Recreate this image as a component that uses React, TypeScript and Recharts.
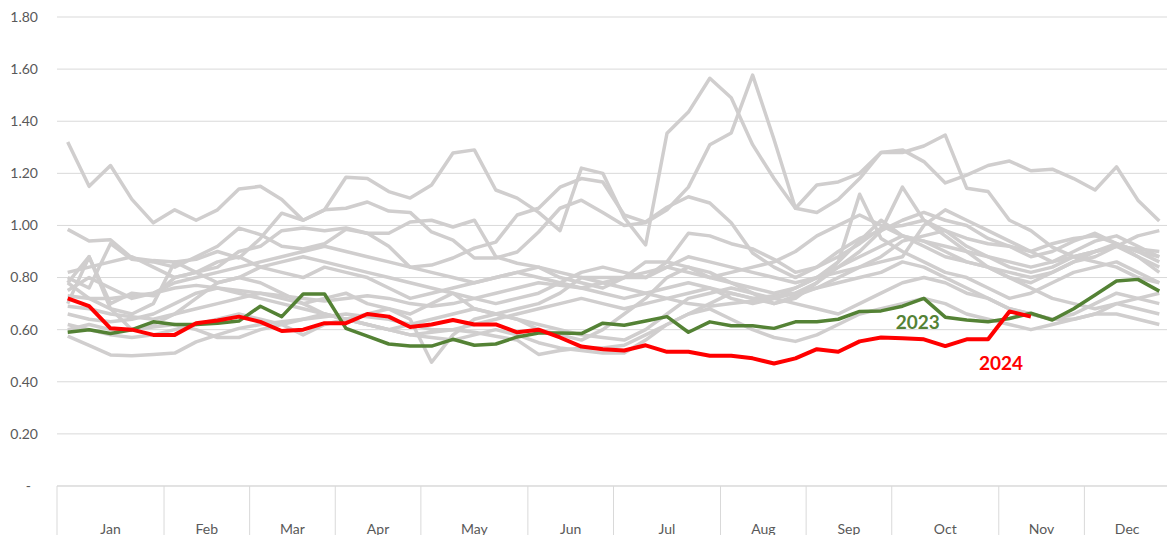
import { LineChart, Line, XAxis, YAxis, CartesianGrid, LabelList } from 'recharts';

// Semanas por mes (52 semanas)
const months = ['Jan', 'Feb', 'Mar', 'Apr', 'May', 'Jun', 'Jul', 'Aug', 'Sep', 'Oct', 'Nov', 'Dec'];
const weeksPerMonth = [5, 4, 4, 4, 5, 4, 5, 4, 4, 5, 4, 4];
const yTicks = [0, 0.2, 0.4, 0.6, 0.8, 1.0, 1.2, 1.4, 1.6, 1.8];

// Años históricos (gris)
const y2009 = [1.32, 1.15, 1.23, 1.10, 1.01, 1.06, 1.02, 1.06, 1.14, 1.15, 1.10, 1.02, 1.06, 1.185, 1.18, 1.13, 1.105, 1.155, 1.278, 1.29, 1.136, 1.105, 1.05, 0.98, 1.22, 1.20, 1.03, 0.925, 1.354, 1.435, 1.565, 1.49, 1.31, 1.18, 1.066, 1.05, 1.10, 1.18, 1.28, 1.28, 1.305, 1.347, 1.143, 1.13, 1.02, 0.98, 0.917, 0.88, 0.90, 0.93, 0.88, 0.82];
const y2010 = [0.985, 0.94, 0.945, 0.875, 0.865, 0.86, 0.87, 0.90, 0.875, 0.95, 1.047, 1.02, 1.06, 1.066, 1.09, 1.055, 1.05, 0.975, 0.944, 0.875, 0.875, 0.898, 0.975, 1.066, 1.097, 1.05, 1.0, 1.01, 1.06, 1.147, 1.31, 1.355, 1.577, 1.33, 1.066, 1.155, 1.167, 1.20, 1.28, 1.29, 1.245, 1.163, 1.193, 1.23, 1.247, 1.21, 1.216, 1.18, 1.136, 1.225, 1.097, 1.017];
const y2011 = [0.80, 0.76, 0.93, 0.87, 0.86, 0.84, 0.88, 0.92, 0.99, 0.965, 0.92, 0.91, 0.93, 0.985, 0.97, 0.92, 0.84, 0.848, 0.875, 0.913, 0.936, 1.04, 1.066, 1.147, 1.18, 1.167, 1.04, 1.013, 1.07, 1.11, 1.086, 1.01, 0.894, 0.84, 0.80, 0.84, 0.88, 0.93, 0.99, 1.0, 1.02, 0.98, 0.95, 0.93, 0.92, 0.90, 0.93, 0.95, 0.96, 0.93, 0.90, 0.88];
const y2012 = [0.78, 0.88, 0.70, 0.74, 0.73, 0.80, 0.82, 0.84, 0.90, 0.92, 0.98, 0.99, 0.98, 0.99, 0.97, 0.97, 1.013, 1.02, 0.994, 1.02, 0.88, 0.855, 0.84, 0.82, 0.80, 0.80, 0.80, 0.80, 0.86, 0.97, 0.96, 0.93, 0.91, 0.87, 0.82, 0.84, 0.90, 0.95, 0.98, 1.02, 1.05, 1.02, 1.0, 0.95, 0.92, 0.88, 0.90, 0.94, 0.97, 0.93, 0.90, 0.86];
const y2013 = [0.575, 0.54, 0.503, 0.50, 0.505, 0.51, 0.553, 0.58, 0.605, 0.62, 0.63, 0.64, 0.65, 0.66, 0.65, 0.64, 0.62, 0.60, 0.60, 0.59, 0.575, 0.56, 0.505, 0.52, 0.53, 0.53, 0.54, 0.58, 0.62, 0.66, 0.70, 0.74, 0.72, 0.70, 0.73, 0.76, 0.78, 0.80, 0.82, 0.86, 0.84, 0.80, 0.76, 0.72, 0.68, 0.66, 0.64, 0.64, 0.66, 0.66, 0.64, 0.62];
const y2014 = [0.62, 0.60, 0.58, 0.57, 0.58, 0.60, 0.62, 0.64, 0.66, 0.64, 0.62, 0.58, 0.62, 0.64, 0.62, 0.60, 0.58, 0.57, 0.56, 0.58, 0.60, 0.58, 0.55, 0.53, 0.52, 0.51, 0.51, 0.56, 0.62, 0.66, 0.68, 0.64, 0.60, 0.57, 0.555, 0.58, 0.62, 0.66, 0.68, 0.70, 0.72, 0.70, 0.66, 0.64, 0.62, 0.60, 0.62, 0.64, 0.66, 0.70, 0.68, 0.66];
const y2015 = [0.70, 0.88, 0.68, 0.60, 0.62, 0.66, 0.72, 0.78, 0.80, 0.78, 0.74, 0.70, 0.72, 0.74, 0.70, 0.68, 0.66, 0.70, 0.74, 0.68, 0.66, 0.64, 0.60, 0.58, 0.56, 0.60, 0.66, 0.72, 0.80, 0.84, 0.82, 0.78, 0.74, 0.70, 0.72, 0.78, 0.86, 0.94, 1.02, 0.96, 0.92, 0.88, 0.86, 0.84, 0.80, 0.78, 0.82, 0.86, 0.90, 0.92, 0.88, 0.84];
const y2016 = [0.78, 0.72, 0.68, 0.66, 0.70, 0.86, 0.82, 0.78, 0.80, 0.84, 0.82, 0.80, 0.84, 0.82, 0.80, 0.76, 0.72, 0.74, 0.76, 0.78, 0.80, 0.82, 0.84, 0.80, 0.78, 0.76, 0.80, 0.86, 0.86, 0.84, 0.80, 0.78, 0.76, 0.74, 0.76, 0.80, 0.86, 1.12, 0.95, 0.90, 0.86, 0.82, 0.80, 0.76, 0.72, 0.74, 0.78, 0.82, 0.84, 0.86, 0.82, 0.78];
const y2017 = [0.73, 0.72, 0.72, 0.73, 0.74, 0.76, 0.77, 0.76, 0.75, 0.74, 0.73, 0.72, 0.71, 0.72, 0.73, 0.72, 0.70, 0.69, 0.70, 0.72, 0.74, 0.76, 0.78, 0.77, 0.76, 0.74, 0.72, 0.74, 0.76, 0.78, 0.76, 0.74, 0.72, 0.73, 0.74, 0.76, 0.80, 0.84, 0.88, 0.94, 0.96, 0.98, 0.92, 0.88, 0.84, 0.82, 0.84, 0.88, 0.90, 0.92, 0.91, 0.90];
const y2018 = [0.66, 0.64, 0.63, 0.64, 0.66, 0.70, 0.74, 0.76, 0.74, 0.72, 0.70, 0.68, 0.66, 0.64, 0.62, 0.60, 0.58, 0.59, 0.60, 0.62, 0.64, 0.66, 0.68, 0.70, 0.72, 0.70, 0.68, 0.70, 0.72, 0.74, 0.76, 0.72, 0.70, 0.72, 0.76, 0.80, 0.82, 0.84, 0.86, 0.88, 1.0, 1.06, 1.02, 0.98, 0.94, 0.90, 0.86, 0.88, 0.86, 0.84, 0.80, 0.78];
const y2019 = [0.69, 0.68, 0.66, 0.65, 0.64, 0.66, 0.68, 0.70, 0.72, 0.74, 0.72, 0.70, 0.66, 0.64, 0.66, 0.68, 0.64, 0.475, 0.58, 0.64, 0.66, 0.68, 0.70, 0.74, 0.80, 0.78, 0.76, 0.74, 0.72, 0.70, 0.69, 0.70, 0.71, 0.72, 0.74, 0.78, 0.84, 0.90, 0.98, 1.147, 1.02, 0.96, 0.90, 0.84, 0.80, 0.76, 0.72, 0.70, 0.68, 0.70, 0.72, 0.74];
const y2020 = [0.82, 0.84, 0.86, 0.88, 0.84, 0.80, 0.82, 0.86, 0.88, 0.84, 0.86, 0.88, 0.86, 0.84, 0.82, 0.80, 0.78, 0.76, 0.74, 0.72, 0.70, 0.72, 0.74, 0.78, 0.82, 0.84, 0.82, 0.80, 0.84, 0.88, 0.86, 0.84, 0.82, 0.80, 0.78, 0.80, 0.84, 0.88, 0.92, 0.96, 0.94, 0.90, 0.86, 0.84, 0.82, 0.80, 0.82, 0.86, 0.88, 0.92, 0.96, 0.98];
const y2021 = [0.60, 0.62, 0.60, 0.60, 0.61, 0.62, 0.60, 0.57, 0.57, 0.60, 0.62, 0.64, 0.66, 0.64, 0.62, 0.60, 0.62, 0.64, 0.66, 0.68, 0.66, 0.64, 0.62, 0.60, 0.58, 0.57, 0.56, 0.60, 0.66, 0.72, 0.74, 0.76, 0.74, 0.72, 0.70, 0.68, 0.66, 0.70, 0.74, 0.78, 0.80, 0.78, 0.74, 0.72, 0.68, 0.66, 0.64, 0.66, 0.70, 0.74, 0.72, 0.70];
const y2022 = [0.75, 0.80, 0.76, 0.72, 0.74, 0.78, 0.80, 0.82, 0.84, 0.86, 0.88, 0.90, 0.92, 0.90, 0.88, 0.86, 0.84, 0.82, 0.80, 0.78, 0.80, 0.82, 0.80, 0.78, 0.76, 0.78, 0.80, 0.82, 0.84, 0.82, 0.80, 0.82, 0.84, 0.86, 0.90, 0.96, 1.0, 1.04, 1.0, 0.96, 0.94, 0.92, 0.90, 0.88, 0.86, 0.84, 0.86, 0.90, 0.94, 0.96, 0.92, 0.88];

// Años destacados
const y2023 = [0.59, 0.60, 0.585, 0.60, 0.63, 0.62, 0.62, 0.625, 0.633, 0.69, 0.65, 0.737, 0.737, 0.605, 0.575, 0.545, 0.537, 0.537, 0.563, 0.54, 0.545, 0.572, 0.587, 0.587, 0.585, 0.625, 0.617, 0.633, 0.65, 0.59, 0.63, 0.615, 0.615, 0.605, 0.63, 0.63, 0.64, 0.67, 0.672, 0.69, 0.72, 0.648, 0.637, 0.63, 0.643, 0.663, 0.637, 0.68, 0.733, 0.787, 0.793, 0.748];
const y2024 = [0.72, 0.69, 0.605, 0.60, 0.58, 0.58, 0.625, 0.635, 0.65, 0.63, 0.595, 0.60, 0.625, 0.625, 0.66, 0.65, 0.61, 0.62, 0.637, 0.62, 0.62, 0.59, 0.60, 0.57, 0.535, 0.525, 0.52, 0.54, 0.515, 0.515, 0.50, 0.50, 0.49, 0.47, 0.49, 0.525, 0.515, 0.555, 0.57, 0.567, 0.563, 0.537, 0.563, 0.563, 0.67, 0.65];

const grayYears: [string, number[]][] = [
  ['2009', y2009], ['2010', y2010], ['2011', y2011], ['2012', y2012],
  ['2013', y2013], ['2014', y2014], ['2015', y2015], ['2016', y2016],
  ['2017', y2017], ['2018', y2018], ['2019', y2019], ['2020', y2020],
  ['2021', y2021], ['2022', y2022],
];

// semana -> mes
const weekMonth: number[] = [];
weeksPerMonth.forEach((n, m) => {
  for (let k = 0; k < n; k++) weekMonth.push(m);
});

const data = weekMonth.map((m, i) => {
  const row: Record<string, number | string | null> = { wk: i };
  grayYears.forEach(([name, arr]) => (row[name] = arr[i]));
  row['2023'] = y2023[i];
  row['2024'] = i < y2024.length ? y2024[i] : null;
  return row;
});

const W = 1180;
const H = 545;
const PLOT_LEFT = 57;
const PLOT_RIGHT = 10;
const BAND = (W - PLOT_LEFT - PLOT_RIGHT) / data.length;
const FONT = 'Lato, "Open Sans", sans-serif';
const GRID = '#D9D9D9';
const GRAY = '#D0CECE';

function MonthTick(props: any) {
  const { x, y, payload } = props;
  const i = payload.index as number;
  const m = weekMonth[i];
  const first = i === 0 || weekMonth[i - 1] !== m;
  const last = i === data.length - 1;
  const n = weeksPerMonth[m];
  return (
    <g>
      {first && (
        <line x1={x - BAND / 2} x2={x - BAND / 2} y1={y} y2={y + 60} stroke={GRID} strokeWidth={1} />
      )}
      {last && (
        <line x1={x + BAND / 2} x2={x + BAND / 2} y1={y} y2={y + 60} stroke={GRID} strokeWidth={1} />
      )}
      {first && (
        <text
          x={x + ((n - 1) * BAND) / 2}
          y={y + 48}
          textAnchor="middle"
          fill="#595959"
          fontSize={14}
          fontFamily={FONT}
        >
          {months[m]}
        </text>
      )}
    </g>
  );
}

function ValueTick(props: any) {
  const { x, y, payload } = props;
  const v = Number(payload.value);
  return (
    <text
      x={v === 0 ? x - 7 : x}
      y={y}
      dy="0.35em"
      textAnchor="end"
      fill="#595959"
      fontSize={14}
      fontFamily={FONT}
    >
      {v === 0 ? '-' : v.toFixed(2)}
    </text>
  );
}

function yearLabel(text: string, at: number, dx: number, dy: number, color: string) {
  return (p: any) =>
    p.index === at ? (
      <text
        x={p.x + dx}
        y={p.y + dy}
        textAnchor="middle"
        fill={color}
        fontSize={19}
        fontWeight={700}
        fontFamily={FONT}
      >
        {text}
      </text>
    ) : null;
}

export default function App() {
  return (
    <div style={{ position: 'fixed', left: 0, top: 0, width: W, height: H, background: '#fff' }}>
      <LineChart width={W} height={H} data={data} margin={{ top: 17, right: PLOT_RIGHT, left: 0, bottom: 0 }}>
        <CartesianGrid vertical={false} stroke={GRID} strokeWidth={1} />
        <XAxis
          dataKey="wk"
          type="category"
          interval={0}
          height={H - 486}
          padding={{ left: BAND / 2, right: BAND / 2 }}
          tickSize={0}
          tickMargin={0}
          tickLine={false}
          axisLine={{ stroke: GRID }}
          tick={<MonthTick />}
        />
        <YAxis
          domain={[0, 1.8]}
          ticks={yTicks}
          width={PLOT_LEFT}
          tickSize={0}
          tickMargin={19}
          axisLine={false}
          tickLine={false}
          tick={<ValueTick />}
        />
        {grayYears.map(([name]) => (
          <Line
            key={name}
            dataKey={name}
            stroke={GRAY}
            strokeWidth={3.5}
            strokeLinejoin="round"
            dot={false}
            activeDot={false}
            isAnimationActive={false}
          />
        ))}
        <Line dataKey="2023" stroke="#548235" strokeWidth={3.5} strokeLinejoin="round" dot={false} activeDot={false} isAnimationActive={false}>
          <LabelList dataKey="2023" content={yearLabel('2023', 40, -6, 31, '#548235')} />
        </Line>
        <Line dataKey="2024" stroke="#FF0000" strokeWidth={4} strokeLinejoin="round" dot={false} activeDot={false} isAnimationActive={false}>
          <LabelList dataKey="2024" content={yearLabel('2024', 43, 13, 31, '#FF0000')} />
        </Line>
      </LineChart>
    </div>
  );
}
